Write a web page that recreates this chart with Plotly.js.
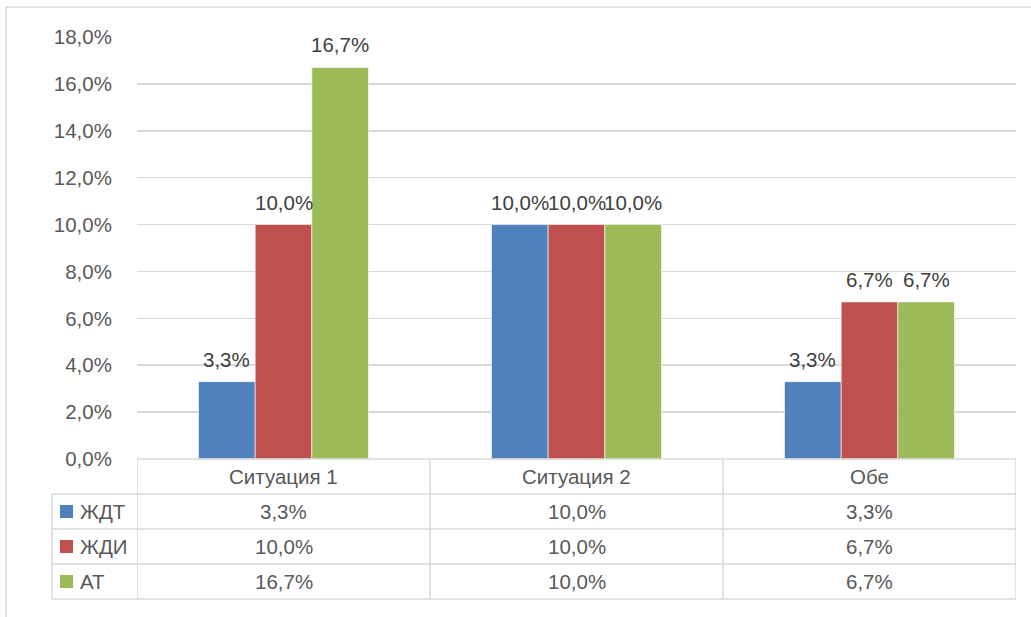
<!DOCTYPE html>
<html>
<head>
<meta charset="utf-8">
<script src="https://cdn.plot.ly/plotly-3.0.1.min.js"></script>
<style>html,body{margin:0;padding:0;background:#fff;}#chart{width:1031px;height:617px;}</style>
</head>
<body>
<div id="chart"></div>
<script>
const categories = ['Ситуация 1', 'Ситуация 2', 'Обе'];
const seriesNames = ['ЖДТ', 'ЖДИ', 'АТ'];
const zhdt = [3.3, 10.0, 3.3];
const zhdi = [10.0, 10.0, 6.7];
const at = [16.7, 10.0, 6.7];
const colors = ['#4F81BD', '#C0504D', '#9BBB59'];
const yTicks = [0, 2, 4, 6, 8, 10, 12, 14, 16, 18];

const seriesValues = [zhdt, zhdi, at];
const fmt = v => v.toFixed(1).replace('.', ',') + '%';
const FONT = 'Liberation Sans, Arial, sans-serif';
const TXT = '#595959';
const FS = 20.5;
const BARGAP = 0.42;
const nSeries = seriesValues.length;
const barW = (1 - BARGAP) / nSeries;

const traces = seriesValues.map((vals, i) => ({
  type: 'bar',
  name: seriesNames[i],
  x: categories,
  y: vals,
  marker: {color: colors[i], line: {color: 'rgba(255,255,255,0.6)', width: 1}},
  hoverinfo: 'skip'
}));

// table geometry (paper units relative to plot area)
const plotW = 879, plotH = 422;
const rowH = 35 / plotH;
const leftX = (52 - 137) / plotW;
const lineCol = '#d9d9d9';
const shapes = [];
const annotations = [];
const nRows = seriesNames.length + 1;

// data labels above bars
seriesValues.forEach((vals, i) => {
  vals.forEach((v, j) => {
    annotations.push({xref: 'x', yref: 'y', x: j + (i - (nSeries - 1) / 2) * barW, y: v, yanchor: 'bottom', yshift: 9, text: fmt(v), showarrow: false, font: {family: FONT, size: FS, color: '#404040'}});
  });
});

// outer chart border
shapes.push({type: 'rect', xref: 'paper', yref: 'paper', x0: (6 - 137) / plotW, x1: 1.1, y0: -0.5, y1: (459 - 7) / plotH, line: {color: '#d9d9d9', width: 1.5}, layer: 'below'});

// horizontal lines
for (let r = 0; r <= nRows; r++) {
  const y = -r * rowH;
  shapes.push({type: 'line', xref: 'paper', yref: 'paper', x0: r === 0 ? 0 : leftX, x1: 1, y0: y, y1: y, line: {color: lineCol, width: 1.5}});
}
// vertical lines at category boundaries
for (let c = 0; c <= categories.length; c++) {
  shapes.push({type: 'line', xref: 'x', yref: 'paper', x0: c - 0.5, x1: c - 0.5, y0: 0, y1: -nRows * rowH, line: {color: lineCol, width: 1.5}});
}
shapes.push({type: 'line', xref: 'paper', yref: 'paper', x0: leftX, x1: leftX, y0: -rowH, y1: -nRows * rowH, line: {color: lineCol, width: 1.5}});

// header row: category names
categories.forEach((c, j) => {
  annotations.push({xref: 'x', yref: 'paper', x: j, y: -0.5 * rowH, text: c, showarrow: false, font: {family: FONT, size: FS, color: TXT}, yanchor: 'middle'});
});
// data rows
seriesValues.forEach((vals, i) => {
  const yc = -(i + 1.5) * rowH;
  const ky = 6.5 / plotH;
  shapes.push({type: 'rect', xref: 'paper', yref: 'paper', x0: (60 - 137) / plotW, x1: (73 - 137) / plotW, y0: yc - ky, y1: yc + ky, fillcolor: colors[i], line: {width: 0}});
  annotations.push({xref: 'paper', yref: 'paper', x: (78 - 137) / plotW, y: yc, xanchor: 'left', yanchor: 'middle', text: seriesNames[i], showarrow: false, font: {family: FONT, size: FS, color: TXT}});
  vals.forEach((v, j) => {
    annotations.push({xref: 'x', yref: 'paper', x: j, y: yc, yanchor: 'middle', text: fmt(v), showarrow: false, font: {family: FONT, size: FS, color: TXT}});
  });
});

const layout = {
  width: 1031, height: 617,
  margin: {l: 137, r: 15, t: 37, b: 158, pad: 0},
  paper_bgcolor: '#ffffff', plot_bgcolor: '#ffffff',
  separators: ', ',
  showlegend: false,
  barmode: 'group',
  bargap: BARGAP,
  bargroupgap: 0,
  font: {family: FONT, size: FS, color: TXT},
  xaxis: {range: [-0.5, categories.length - 0.5], showticklabels: false, showgrid: false, zeroline: false, showline: false, ticks: '', fixedrange: true},
  yaxis: {range: [0, 18], tickvals: yTicks, ticktext: yTicks.map(fmt), showgrid: true, gridcolor: '#d9d9d9', gridwidth: 1.5, zeroline: false, showline: false, ticks: 'outside', ticklen: 20, tickcolor: 'rgba(0,0,0,0)', tickfont: {family: FONT, size: FS, color: TXT}, fixedrange: true},
  shapes: shapes,
  annotations: annotations
};

Plotly.newPlot('chart', traces, layout, {displayModeBar: false, staticPlot: true});
</script>
</body>
</html>
